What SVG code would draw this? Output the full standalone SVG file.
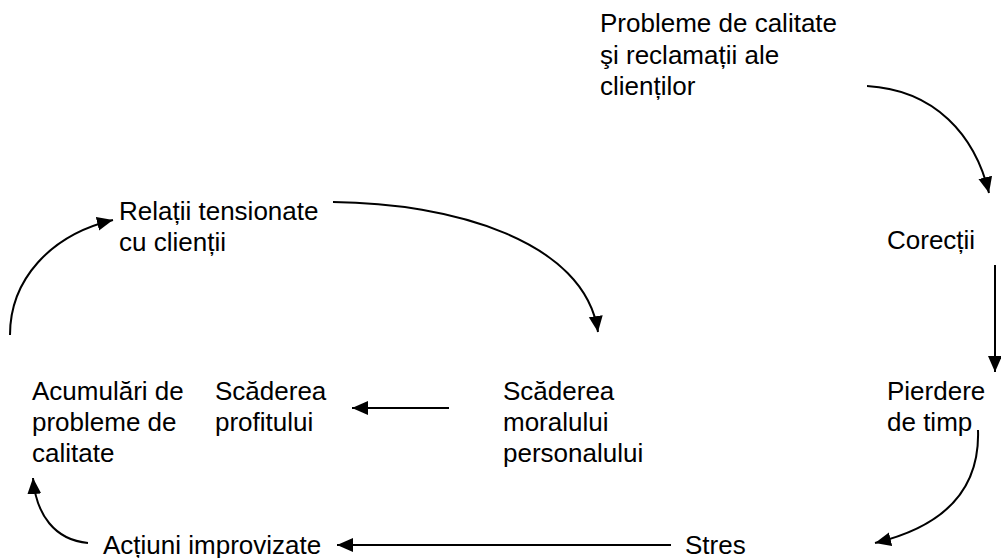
<svg xmlns="http://www.w3.org/2000/svg" width="1001" height="558" viewBox="0 0 1001 558">
  <style>
    .lbl { font-family: "Liberation Sans", Arial, sans-serif; font-size: 26px; fill: #000; }
    .edge { fill: none; stroke: #000; stroke-width: 2; marker-end: url(#arrow); }
  </style>
  <defs>
    <marker id="arrow" markerUnits="userSpaceOnUse" markerWidth="18" markerHeight="16" refX="16" refY="7" orient="auto">
      <path d="M0,0 L16,7 L0,14 z" fill="#000"/>
    </marker>
  </defs>
  <rect width="1001" height="558" fill="#fff"/>

  <g id="n-probleme">
    <text class="lbl" x="600" y="32">Probleme de calitate</text>
    <text class="lbl" x="600" y="63.5">şi reclamații ale</text>
    <text class="lbl" x="600" y="95">clienților</text>
  </g>
  <g id="n-corectii">
    <text class="lbl" x="887" y="249">Corecții</text>
  </g>
  <g id="n-pierdere">
    <text class="lbl" x="887" y="400">Pierdere</text>
    <text class="lbl" x="887" y="431">de timp</text>
  </g>
  <g id="n-stres">
    <text class="lbl" x="685" y="554">Stres</text>
  </g>
  <g id="n-actiuni">
    <text class="lbl" x="103" y="554">Acțiuni improvizate</text>
  </g>
  <g id="n-acumulari">
    <text class="lbl" x="32" y="400">Acumulări de</text>
    <text class="lbl" x="32" y="431">probleme de</text>
    <text class="lbl" x="32" y="462">calitate</text>
  </g>
  <g id="n-relatii">
    <text class="lbl" x="119" y="220">Relații tensionate</text>
    <text class="lbl" x="119" y="251">cu clienții</text>
  </g>
  <g id="n-moral">
    <text class="lbl" x="503" y="400">Scăderea</text>
    <text class="lbl" x="503" y="431">moralului</text>
    <text class="lbl" x="503" y="462">personalului</text>
  </g>
  <g id="n-profit">
    <text class="lbl" x="215" y="400">Scăderea</text>
    <text class="lbl" x="215" y="431">profitului</text>
  </g>

  <g id="connectors">
    <path class="edge" d="M867,86 C935,90 975,135 989,193"/>
    <path class="edge" d="M995,265 L995,372"/>
    <path class="edge" d="M978,430 C980,485 950,525 875,543"/>
    <path class="edge" d="M671,545 L337,545"/>
    <path class="edge" d="M88,543 C55,540 36,515 33,478"/>
    <path class="edge" d="M449,408 L352,408"/>
    <path class="edge" d="M333,202 C450,203 585,240 598,332"/>
    <path class="edge" d="M10,335 C10,280 50,235 113,220"/>
  </g>
</svg>
